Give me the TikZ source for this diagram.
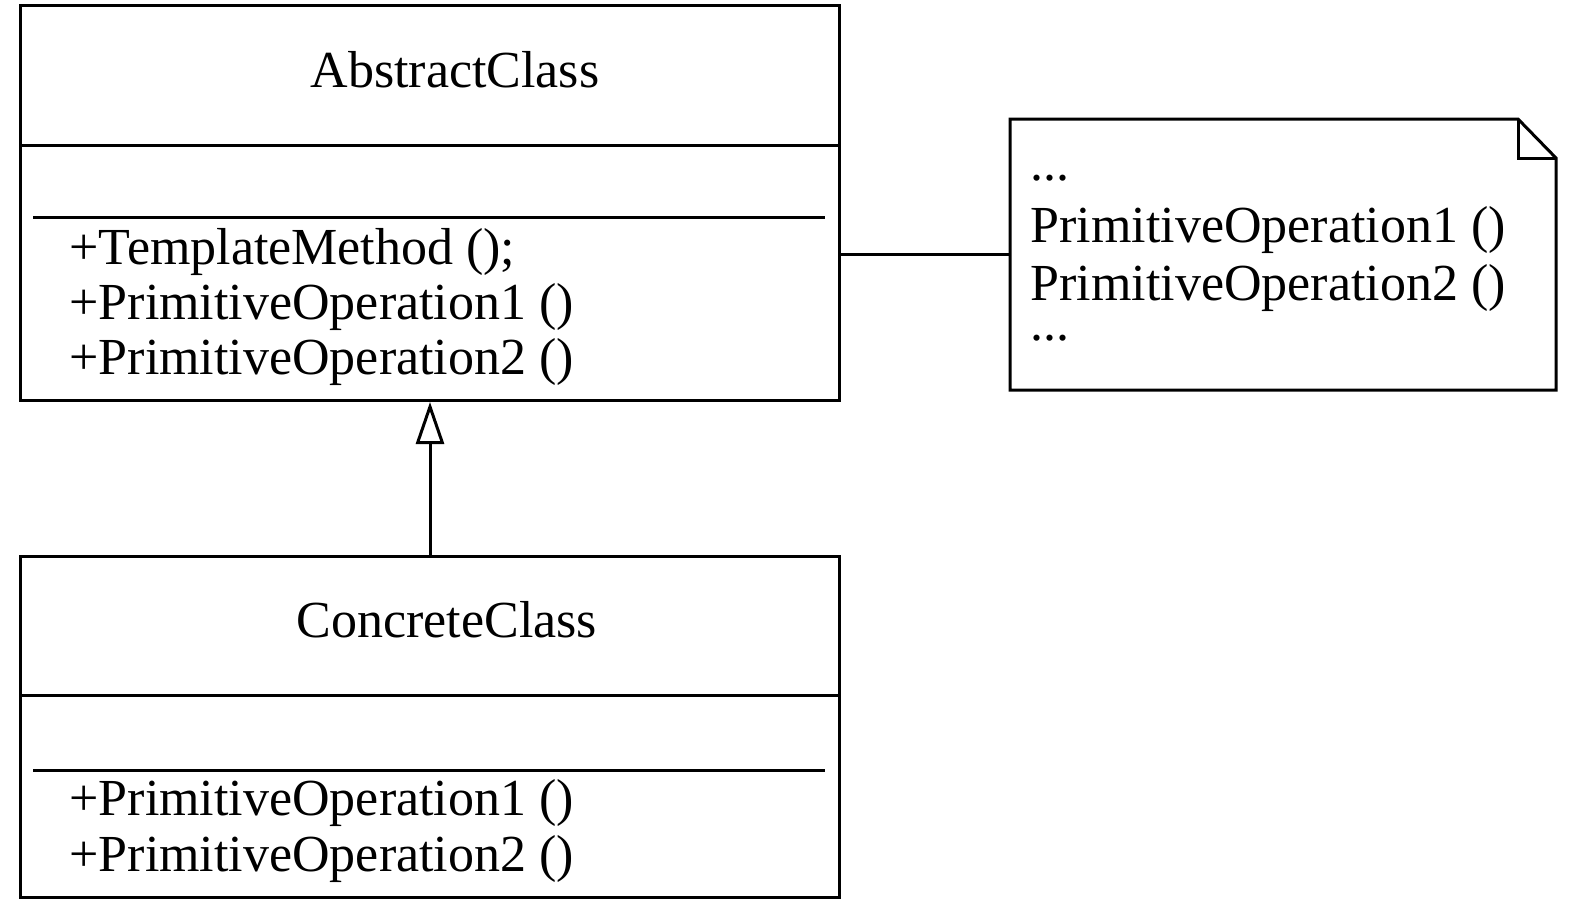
\documentclass[tikz,border=0pt]{standalone}
\usepackage{fontspec}
\setmainfont{Liberation Serif}
\usetikzlibrary{arrows.meta}
\begin{document}
\begin{tikzpicture}[x=1pt,y=-1pt,line width=3pt,>={Triangle[open,length=42pt,width=28pt]},
        font=\fontsize{52pt}{58pt}\selectfont]
        \tikzset{umlbox/.style={draw, rectangle, anchor=north west, inner sep=0pt},
                 txt/.style={inner sep=0pt, anchor=base west}}
        \useasboundingbox (0,0) rectangle (1575,902);

        % AbstractClass
        \node (abs) [umlbox, minimum width=819pt, minimum height=395pt] at (19,4) {};
        \draw (19,145) -- (838,145);
        \draw (33,217) -- (825,217);
        \node (absname) [inner sep=0pt, anchor=base] at (455,87) {AbstractClass};
        \node (absm1) [txt] at (68,264) {+TemplateMethod ();};
        \node (absm2) [txt] at (68,319) {+PrimitiveOperation1 ()};
        \node (absm3) [txt] at (68,374) {+PrimitiveOperation2 ()};

        % ConcreteClass
        \node (conc) [umlbox, minimum width=819pt, minimum height=341pt] at (19,555) {};
        \draw (19,695) -- (838,695);
        \draw (33,770) -- (825,770);
        \node (concname) [inner sep=0pt, anchor=base] at (447,637) {ConcreteClass};
        \node (concm1) [txt] at (68,815) {+PrimitiveOperation1 ()};
        \node (concm2) [txt] at (68,871) {+PrimitiveOperation2 ()};

        % note
        \node (note) [inner sep=0pt, anchor=north west, minimum width=543pt, minimum height=268pt] at (1010,119) {};
        \draw (note.north west) -- ([xshift=-38pt]note.north east) -- ([yshift=-39pt]note.north east)
            -- (note.south east) -- (note.south west) -- cycle;
        \draw ([xshift=-38pt]note.north east) |- ([yshift=-39pt]note.north east);
        \node (note1) [txt] at (1029,180) {...};
        \node (note2) [txt] at (1029,242) {PrimitiveOperation1 ()};
        \node (note3) [txt] at (1029,300) {PrimitiveOperation2 ()};
        \node (note4) [txt] at (1029,340) {...};

        \draw[->] (conc.north) -- (abs.south);
        \draw (abs.east |- note.west) -- (note.west);
    \end{tikzpicture}
\end{document}
